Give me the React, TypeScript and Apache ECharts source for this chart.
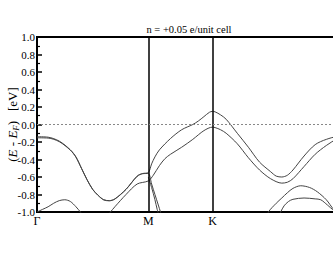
import React, { useEffect, useRef } from "react";
import * as echarts from "echarts";

const titleText = "n = +0.05 e/unit cell";
const kLabels = ["Γ", "M", "K", "Γ"];
const kPositions = [0, 1, 1.577, 2.732];
const fermiLevel = 0;

const kBandA = [0, 0.1, 0.2, 0.3, 0.35, 0.4, 0.45, 0.5, 0.55, 0.6, 0.65, 0.7, 0.8, 0.9, 0.95, 1.0,
  1.03, 1.06, 1.1, 1.2, 1.3, 1.4, 1.45, 1.5, 1.55, 1.577, 1.6, 1.65, 1.7, 1.8, 1.9, 2.0, 2.1, 2.15, 2.2, 2.25, 2.3, 2.4, 2.5, 2.6, 2.7, 2.732];
const eBandA = [-0.14, -0.145, -0.19, -0.29, -0.37, -0.5, -0.63, -0.74, -0.81, -0.86, -0.87, -0.85, -0.74, -0.59, -0.56, -0.55,
  -0.45, -0.37, -0.29, -0.16, -0.06, 0.0, 0.04, 0.09, 0.14, 0.15, 0.145, 0.11, 0.06, -0.1, -0.26, -0.43, -0.54, -0.59, -0.6, -0.58, -0.52, -0.36, -0.23, -0.17, -0.14, -0.14];

const kBandB = [0, 0.1, 0.2, 0.3, 0.35, 0.4, 0.45, 0.5, 0.55, 0.6, 0.65, 0.7, 0.8, 0.9, 0.95, 1.0,
  1.03, 1.06, 1.09, 1.11, 1.14, 1.5, 2.15, 2.19, 2.22, 2.26, 2.3, 2.4, 2.5, 2.55, 2.61, 2.667, 2.732];
const eBandB: (number | string)[] = [-0.152, -0.155, -0.196, -0.294, -0.374, -0.503, -0.633, -0.742, -0.812, -0.862, -0.872, -0.852, -0.742, -0.592, -0.562, -0.56,
  -0.68, -0.8, -0.92, -1.0, -1.12, "-", -1.1, -1.0, -0.93, -0.88, -0.855, -0.84, -0.85, -0.86, -0.92, -0.98, -1.01];

const kBandC = [0, 0.05, 0.1, 0.15, 0.2, 0.25, 0.3, 0.35, 0.39, 0.45, 0.6, 0.66, 0.7, 0.8, 0.9, 1.0,
  1.045, 1.1, 1.15, 1.2, 1.3, 1.4, 1.5, 1.577, 1.6, 1.65, 1.7, 1.8, 1.9, 2.0, 2.1, 2.2, 2.25, 2.3, 2.4, 2.5, 2.6, 2.7, 2.732];
const eBandC: (number | string)[] = [-1.0, -0.97, -0.94, -0.9, -0.87, -0.86, -0.88, -0.94, -1.0, -1.1, -1.08, -1.0, -0.94, -0.8, -0.68, -0.645,
  -0.58, -0.47, -0.39, -0.34, -0.26, -0.17, -0.07, -0.03, -0.035, -0.06, -0.1, -0.22, -0.38, -0.52, -0.62, -0.67, -0.66, -0.62, -0.48, -0.34, -0.24, -0.16, -0.15];

const kBandD = [1.0, 1.03, 1.06, 1.08, 1.1, 1.5, 2.05, 2.08, 2.15, 2.2, 2.25, 2.3, 2.37, 2.45, 2.52, 2.6, 2.667, 2.732];
const eBandD: (number | string)[] = [-0.6, -0.72, -0.86, -0.97, -1.05, "-", -1.1, -1.0, -0.9, -0.84, -0.78, -0.73, -0.7, -0.72, -0.77, -0.86, -0.97, -1.02];

const serif = "Liberation Serif";
const bandColor = "#444";

function pairs(ks: number[], es: (number | string)[]) {
  return ks.map((k, i) => [k, es[i]]);
}

export default function App() {
  const ref = useRef<HTMLDivElement>(null);
  useEffect(() => {
    if (!ref.current) return;
    const chart = echarts.init(ref.current, undefined, { renderer: "svg" });
    const bands = [pairs(kBandA, eBandA), pairs(kBandB, eBandB), pairs(kBandC, eBandC), pairs(kBandD, eBandD)];
    const series: any[] = bands.map((d, i) => ({
      type: "line",
      data: d,
      showSymbol: false,
      symbol: "none",
      smooth: 0.3,
      connectNulls: false,
      clip: true,
      lineStyle: { color: bandColor, width: 1 },
      markLine: i === 0 ? {
        symbol: "none",
        silent: true,
        label: { show: false },
        data: [
          { xAxis: kPositions[1], lineStyle: { color: "#000", width: 1.5, type: "solid" } },
          { xAxis: kPositions[2], lineStyle: { color: "#000", width: 1.5, type: "solid" } },
          { yAxis: fermiLevel, lineStyle: { color: "#888", width: 1, type: [2, 2] } },
        ],
      } : undefined,
    }));
    // the closing Γ sits just past the right edge of the picture, as in the reference
    const visibleK = kPositions.slice(0, 3);
    chart.setOption({
      animation: false,
      grid: {
        left: 37, top: 37, width: 304, height: 175, show: true, borderColor: "#000", borderWidth: 2,
        backgroundColor: "transparent", containLabel: false, outerBoundsMode: "none",
      },
      graphic: [{
        type: "text", x: 189, y: 29,
        style: { text: titleText, fontFamily: serif, fontSize: 10.5, fill: "#000", textAlign: "center", textVerticalAlign: "middle" },
      }],
      xAxis: {
        type: "value", min: kPositions[0], max: kPositions[3],
        axisLine: { show: false },
        splitLine: { show: false },
        axisTick: { show: false },
        axisLabel: {
          customValues: visibleK,
          formatter: (v: number) => {
            const i = kPositions.findIndex((p) => Math.abs(p - v) < 1e-6);
            return i >= 0 ? kLabels[i] : "";
          },
          color: "#000", fontFamily: serif, fontSize: 12, margin: 3,
        },
      },
      yAxis: {
        type: "value", min: -1, max: 1, interval: 0.2,
        axisLine: { show: false },
        splitLine: { show: false },
        axisTick: { show: true, inside: true, length: 5, lineStyle: { color: "#000", width: 1.5 } },
        minorTick: { show: true, splitNumber: 2, length: 3, lineStyle: { color: "#000", width: 1.2 } },
        axisLabel: { formatter: (v: number) => v.toFixed(1), color: "#000", fontFamily: serif, fontSize: 11, margin: 2 },
        name: "{p|(}{i|E}{p| - }{i|E}{s|F}{p|)   [eV]}",
        nameLocation: "middle",
        nameGap: 17,
        nameMoveOverlap: false,
        nameRotate: 90,
        nameTextStyle: {
          color: "#000",
          fontFamily: serif,
          padding: [0, 0, 0, 0],
          rich: {
            p: { fontFamily: serif, fontSize: 13, color: "#000" },
            i: { fontFamily: serif, fontSize: 13, fontStyle: "italic", color: "#000" },
            s: { fontFamily: serif, fontSize: 9, fontStyle: "italic", color: "#000", padding: [6, 0, 0, 0] },
          },
        },
      },
      series,
    });
    return () => chart.dispose();
  }, []);
  return (
    <div style={{ position: "fixed", left: 0, top: 0, width: 333, height: 258, overflow: "hidden", background: "#fff" }}>
      <div ref={ref} style={{ width: 360, height: 258 }} />
    </div>
  );
}
